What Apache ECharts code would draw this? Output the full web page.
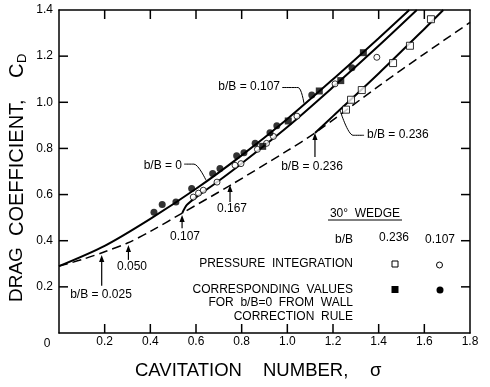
<!DOCTYPE html>
<html><head><meta charset="utf-8">
<script src="https://cdn.jsdelivr.net/npm/echarts@6.0.0/dist/echarts.min.js"></script>
<style>html,body{margin:0;padding:0;background:#fff}#c{width:490px;height:387px}</style>
</head><body><div id="c"></div>
<script>
// ---- data ----
const xTicks = [0.2, 0.4, 0.6, 0.8, 1.0, 1.2, 1.4, 1.6];
const yTicks = [0.2, 0.4, 0.6, 0.8, 1.0, 1.2];

// b/B = 0 curve
const sigB0 = [0, 0.2, 0.4, 0.6, 0.8, 1.0, 1.2, 1.4, 1.534];
const cdB0  = [0.29, 0.378, 0.495, 0.625, 0.77, 0.928, 1.1, 1.278, 1.4];
// b/B = 0.107 curve
const sigB107 = [0.54, 0.56, 0.6, 0.7, 0.8, 1.0, 1.2, 1.4, 1.567];
const cdB107  = [0.52, 0.555, 0.588, 0.66, 0.735, 0.893, 1.066, 1.245, 1.4];
// b/B = 0.236 curve
const sigB236 = [1.121, 1.2, 1.4, 1.6, 1.683];
const cdB236  = [0.867, 0.94, 1.125, 1.318, 1.4];
// dashed limiting curve
const sigLim = [0, 0.1, 0.2, 0.3, 0.4, 0.54, 0.75, 1.0, 1.121, 1.4, 1.6, 1.8];
const cdLim  = [0.29, 0.318, 0.352, 0.39, 0.44, 0.52, 0.64, 0.79, 0.867, 1.07, 1.21, 1.346];

// pressure integration, b/B = 0.107 (open circles)
const sigOpenC = [0.588, 0.611, 0.632, 0.692, 0.771, 0.797, 0.869, 0.909, 0.939, 1.042, 1.209, 1.392];
const cdOpenC  = [0.589, 0.606, 0.619, 0.654, 0.727, 0.734, 0.796, 0.822, 0.852, 0.940, 1.080, 1.195];
// pressure integration, b/B = 0.236 (open squares)
const sigOpenS = [1.257, 1.279, 1.326, 1.463, 1.537, 1.629];
const cdOpenS  = [0.968, 1.011, 1.053, 1.170, 1.245, 1.360];
// corrected to b/B = 0 from 0.107 (filled circles)
const sigFillC = [0.416, 0.452, 0.512, 0.581, 0.673, 0.705, 0.778, 0.810, 0.859, 0.924, 0.954, 1.107, 1.283];
const cdFillC  = [0.523, 0.557, 0.568, 0.626, 0.691, 0.713, 0.768, 0.781, 0.822, 0.868, 0.898, 1.032, 1.150];
// corrected to b/B = 0 from 0.236 (filled squares)
const sigFillS = [0.892, 1.004, 1.140, 1.234, 1.333];
const cdFillS  = [0.809, 0.919, 1.049, 1.094, 1.215];

// choking arrows on dashed curve: sigma, arrow tail CD, arrow tip CD
const arrowSig  = [0.187, 0.304, 0.539, 0.749, 1.121];
const arrowTail = [0.205, 0.317, 0.454, 0.568, 0.763];
const arrowTip  = [0.338, 0.381, 0.511, 0.641, 0.867];

// leader lines for curve labels
const leadB0Sig = [0.548, 0.591, 0.644];
const leadB0Cd  = [0.732, 0.732, 0.662];
const leadB107Sig = [0.977, 1.047, 1.073];
const leadB107Cd  = [1.064, 1.064, 0.995];
const leadB236Sig = [1.231, 1.288, 1.336];
const leadB236Cd  = [0.965, 0.857, 0.857];

// ---- build ----
const X_MIN = 0, X_MAX = 1.8, Y_MIN = 0, Y_MAX = 1.4;
const zip = (a, b) => a.map((v, i) => [v, b[i]]);
const FONT = '"Liberation Sans", Arial, Helvetica, sans-serif';
const TICK = 9;
const chart = echarts.init(document.getElementById('c'), null, {renderer: 'canvas'});

const solid = (name, xs, ys) => ({
  name, type: 'line', data: zip(xs, ys), showSymbol: false, smooth: 0.3,
  lineStyle: {color: '#000', width: 2}, silent: true, z: 3
});
const leader = (xs, ys) => ({
  type: 'line', data: zip(xs, ys), showSymbol: false, smooth: 0.3,
  lineStyle: {color: '#000', width: 1}, silent: true, z: 3
});

const txt = (text, x, y, align, size) => ({
  type: 'text', x: x, y: y, silent: true,
  style: {text: text, font: (size || 12) + 'px ' + FONT, fill: '#000',
    textAlign: align || 'center', align: align || 'center',
    textVerticalAlign: 'middle', verticalAlign: 'middle'}
});
const vtxt = (text, x, size, dy) => ({
  type: 'text', x: x, y: dy || 0, style: {text: text, font: size + 'px ' + FONT, fill: '#000',
    textAlign: 'left', align: 'left', textVerticalAlign: 'middle', verticalAlign: 'middle'}
});

const mkAxis = (extra) => Object.assign({
  type: 'value',
  axisLine: {show: true, onZero: false, lineStyle: {color: '#000', width: 1.5}},
  axisTick: {show: false},
  splitLine: {show: false}
}, extra);

const option = {
  animation: false,
  backgroundColor: '#fff',
  grid: {left: 59, right: 20, top: 10, bottom: 54},
  xAxis: [
    mkAxis({min: X_MIN, max: X_MAX, interval: 0.2, position: 'bottom',
      axisLabel: {color: '#000', fontSize: 12, fontFamily: FONT, margin: 3,
        formatter: v => (v < 0.01 ? '' : v.toFixed(1))}}),
    mkAxis({min: X_MIN, max: X_MAX, interval: 0.2, position: 'top', axisLabel: {show: false}})
  ],
  yAxis: [
    mkAxis({min: Y_MIN, max: Y_MAX, interval: 0.2, position: 'left',
      axisLabel: {color: '#000', fontSize: 12, fontFamily: FONT, margin: 6,
        formatter: v => (v < 0.01 ? '' : v.toFixed(1))}}),
    mkAxis({min: Y_MIN, max: Y_MAX, interval: 0.2, position: 'right', axisLabel: {show: false}})
  ],
  series: [
    solid('b/B=0', sigB0, cdB0),
    solid('b/B=0.107', sigB107, cdB107),
    solid('b/B=0.236', sigB236, cdB236),
    {name: 'limit', type: 'line', data: zip(sigLim, cdLim), showSymbol: false, smooth: 0.3,
      lineStyle: {color: '#000', width: 1.5, type: [9, 5]}, silent: true, z: 3},
    leader(leadB0Sig, leadB0Cd),
    leader(leadB107Sig, leadB107Cd),
    leader(leadB236Sig, leadB236Cd),
    {name: 'open circle', type: 'scatter', data: zip(sigOpenC, cdOpenC), symbol: 'circle', symbolSize: 6,
      itemStyle: {color: '#fff', borderColor: '#000', borderWidth: 1}, z: 5},
    {name: 'open square', type: 'scatter', data: zip(sigOpenS, cdOpenS), symbol: 'rect', symbolSize: 7,
      itemStyle: {color: '#fff', borderColor: '#000', borderWidth: 1}, z: 5},
    {name: 'filled circle', type: 'scatter', data: zip(sigFillC, cdFillC), symbol: 'circle', symbolSize: 7,
      itemStyle: {color: '#000'}, z: 5},
    {name: 'filled square', type: 'scatter', data: zip(sigFillS, cdFillS), symbol: 'rect', symbolSize: 7,
      itemStyle: {color: '#000'}, z: 5},
    {name: 'arrows', type: 'custom', data: arrowSig.map((s, i) => [s, arrowTail[i], arrowTip[i]]),
      encode: {x: 0, y: [1, 2]}, silent: true, z: 4,
      renderItem: function (params, api) {
        const p0 = api.coord([api.value(0), api.value(1)]);
        const p1 = api.coord([api.value(0), api.value(2)]);
        return {type: 'group', children: [
          {type: 'line', shape: {x1: p0[0], y1: p0[1], x2: p1[0], y2: p1[1] + 5},
            style: {stroke: '#000', lineWidth: 1.2}},
          {type: 'polygon', shape: {points: [[p1[0], p1[1]], [p1[0] - 2.6, p1[1] + 7], [p1[0] + 2.6, p1[1] + 7]]},
            style: {fill: '#000'}}
        ]};
      }}
  ]
};
chart.setOption(option);

const labels = [
  txt('0', 47, 343.5),
  txt('CAVITATION', 135, 371, 'left', 18.5),
  txt('NUMBER,', 263, 371, 'left', 18.5),
  txt('\u03c3', 370, 371, 'left', 18.5),
  {type: 'group', x: 17, y: 0, rotation: Math.PI / 2, silent: true, children: [
    vtxt('DRAG', -302, 19),
    vtxt('COEFFICIENT,', -236, 20),
    vtxt('C', -78, 20),
    vtxt('D', -63, 13, 5)
  ]},
  txt('b/B = 0.107', 280, 87, 'right'),
  txt('b/B = 0', 182, 165.5, 'right'),
  txt('b/B = 0.236', 367, 135, 'left'),
  txt('b/B = 0.236', 312, 167),
  txt('0.167', 232, 209),
  txt('0.107', 185, 237),
  txt('0.050', 132, 267),
  txt('b/B = 0.025', 101, 295),
  txt('30\u00b0  WEDGE', 365, 213.5),
  {type: 'rect', shape: {x: 328, y: 219.5, width: 74, height: 1}, style: {fill: '#000'}},
  txt('b/B', 353, 239.5, 'right'),
  txt('0.236', 394, 238),
  txt('0.107', 440, 239.5),
  txt('PRESSURE  INTEGRATION', 353, 264, 'right'),
  txt('CORRESPONDING  VALUES', 353, 289.5, 'right'),
  txt('FOR  b/B=0  FROM  WALL', 353, 303, 'right'),
  txt('CORRECTION  RULE', 353, 316.5, 'right'),
  {type: 'rect', shape: {x: 392, y: 261, width: 6, height: 6}, style: {fill: '#fff', stroke: '#000', lineWidth: 1}},
  {type: 'circle', shape: {cx: 439.5, cy: 265, r: 3}, style: {fill: '#fff', stroke: '#000', lineWidth: 1}},
  {type: 'rect', shape: {x: 391.5, y: 286, width: 7, height: 7}, style: {fill: '#000'}},
  {type: 'circle', shape: {cx: 440, cy: 290, r: 3.5}, style: {fill: '#000'}}
];

// tick marks on all four sides (filled bars), positioned through the axes' own scales
const toPx = (x, y) => chart.convertToPixel({gridIndex: 0}, [x, y]);
const ticks = [];
const bar = (x, y, w, h) => ({type: 'rect', z: 100, silent: true,
  shape: {x: x, y: y, width: w, height: h}, style: {fill: '#000'}});
xTicks.forEach(v => {
  const b = toPx(v, Y_MIN), t = toPx(v, Y_MAX);
  ticks.push(bar(b[0] - 0.75, b[1] - TICK, 1.5, TICK));
  ticks.push(bar(t[0] - 0.75, t[1], 1.5, TICK));
});
yTicks.forEach(v => {
  const l = toPx(X_MIN, v), r = toPx(X_MAX, v);
  ticks.push(bar(l[0], l[1] - 0.75, TICK, 1.5));
  ticks.push(bar(r[0] - TICK, r[1] - 0.75, TICK, 1.5));
});
chart.setOption({graphic: labels.concat(ticks)});
</script>
</body></html>
